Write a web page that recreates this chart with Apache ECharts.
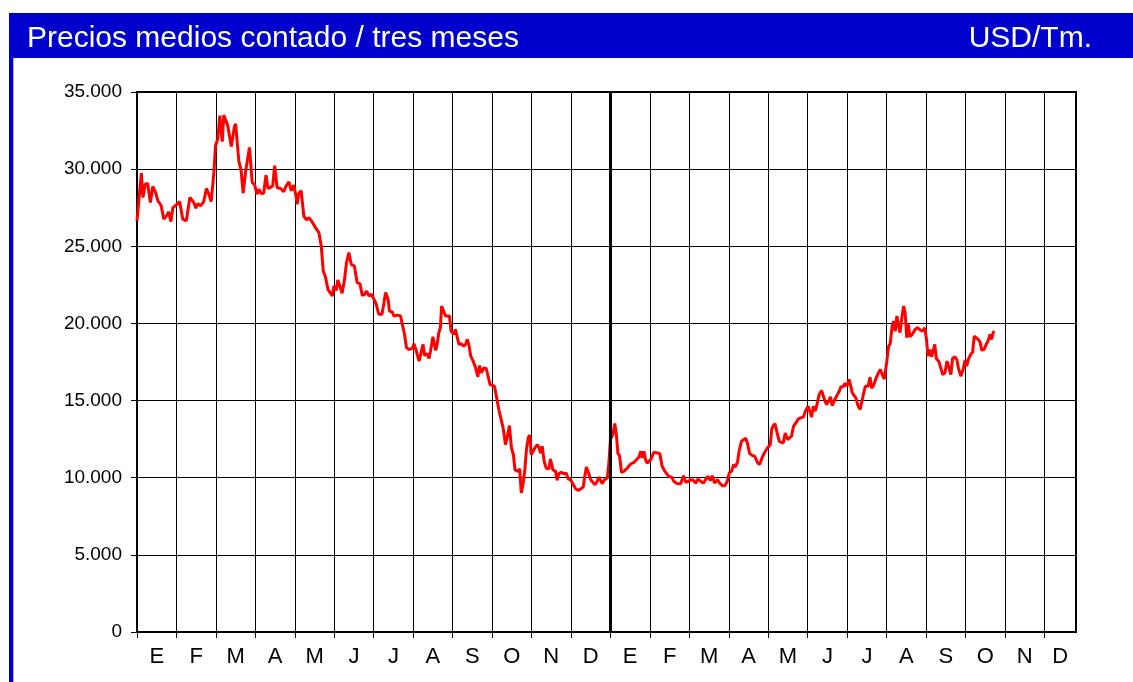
<!DOCTYPE html>
<html>
<head>
<meta charset="utf-8">
<script src="https://cdn.jsdelivr.net/npm/echarts@6/dist/echarts.min.js"></script>
<style>
html, body { margin: 0; padding: 0; background: #fff; }
#chart { width: 1133px; height: 682px; }
</style>
</head>
<body>
<div id="chart"></div>
<script>
// Precios medios contado / tres meses (USD/Tm.) - dos años, eje en meses
const MESES = ['E', 'F', 'M', 'A', 'M', 'J', 'J', 'A', 'S', 'O', 'N', 'D'];
const EJE_MAX = 23.8;   // el último mes (D) queda recortado
const Y_MAX = 35000;
const Y_PASO = 5000;

// [mes (posición fraccionaria desde enero del primer año), precio]
const tramoAnio1 = [
    [0.00, 26650], [0.11, 29740], [0.15, 28160], [0.21, 29030], [0.27, 29070], [0.34, 27840],
    [0.40, 28880], [0.47, 28490], [0.53, 27950], [0.61, 27660], [0.68, 26760], [0.76, 27020],
    [0.80, 27230], [0.86, 26600], [0.91, 27510], [1.02, 27730], [1.08, 27900], [1.16, 26760],
    [1.25, 26650], [1.34, 28160], [1.44, 27840], [1.49, 27470], [1.54, 27770], [1.61, 27620],
    [1.69, 27880], [1.76, 28750], [1.82, 28380], [1.88, 27900], [1.95, 29790], [1.99, 31520],
    [2.05, 31990], [2.10, 33470], [2.16, 31780], [2.20, 33510], [2.24, 33470], [2.30, 32820],
    [2.39, 31470], [2.47, 32770], [2.50, 32930], [2.58, 30540], [2.64, 29890], [2.69, 28440],
    [2.75, 29790], [2.79, 29680], [2.85, 31410], [2.92, 29140], [2.98, 28990], [3.04, 28380],
    [3.09, 28700], [3.15, 28420], [3.21, 28440], [3.27, 29610], [3.32, 28750], [3.38, 28810],
    [3.44, 28920], [3.49, 30220], [3.55, 28810], [3.64, 28750], [3.72, 28530], [3.78, 28920],
    [3.85, 29180], [3.91, 28600], [3.97, 28960], [4.03, 28270], [4.06, 27730], [4.10, 28440],
    [4.16, 28600], [4.23, 26930], [4.30, 26710], [4.36, 26860], [4.44, 26580], [4.52, 26220],
    [4.61, 25890], [4.67, 25020], [4.72, 23400], [4.78, 22970], [4.84, 22210], [4.89, 22140],
    [4.95, 21780], [4.99, 22430], [5.05, 22140], [5.09, 22810], [5.14, 22750], [5.20, 21950],
    [5.26, 22860], [5.31, 23940], [5.37, 24590], [5.43, 23830], [5.51, 23720], [5.58, 22640],
    [5.65, 22580], [5.71, 21820], [5.77, 21890], [5.82, 22100], [5.88, 21780], [5.94, 21890],
    [5.98, 21820], [6.05, 21350], [6.13, 20590], [6.21, 20590], [6.26, 21350], [6.30, 22000],
    [6.36, 21610], [6.40, 20800], [6.47, 20740], [6.51, 20480], [6.60, 20540], [6.68, 20480],
    [6.72, 20400], [6.78, 19300], [6.83, 18420], [6.89, 18310], [6.98, 18380], [7.02, 18680],
    [7.08, 18210], [7.15, 17560], [7.20, 17660], [7.25, 18640], [7.29, 17920], [7.36, 18030],
    [7.40, 17730], [7.44, 18210], [7.50, 19140], [7.57, 18250], [7.61, 18680], [7.65, 19400],
    [7.69, 19720], [7.72, 21130], [7.76, 21020], [7.82, 20480], [7.86, 20520], [7.92, 20480],
    [7.96, 19500], [8.03, 19290], [8.07, 19610], [8.12, 19610], [8.16, 18640], [8.22, 18680],
    [8.27, 18530], [8.33, 18640], [8.37, 18960], [8.41, 18640], [8.46, 17880], [8.52, 17560],
    [8.58, 17120], [8.64, 16540], [8.68, 17270], [8.73, 16800], [8.79, 17120], [8.85, 17080],
    [8.90, 17120], [8.95, 16040], [9.00, 16150], [9.06, 15930], [9.11, 15280], [9.17, 14420],
    [9.23, 13770], [9.28, 13230], [9.34, 12140], [9.38, 12580], [9.44, 13380], [9.49, 11930],
    [9.54, 11490], [9.58, 10520], [9.64, 10410], [9.70, 10570], [9.74, 9010], [9.79, 9650],
    [9.83, 10520], [9.87, 11820], [9.92, 12620], [9.96, 12750], [9.99, 11490], [10.04, 11710],
    [10.10, 11990], [10.15, 12140], [10.19, 11930], [10.23, 11600], [10.27, 12040], [10.32, 11060],
    [10.37, 10630], [10.44, 10570], [10.48, 11210], [10.54, 10520], [10.61, 10410], [10.65, 9830],
    [10.69, 10260], [10.75, 10350], [10.82, 10260], [10.88, 10300], [10.93, 9910], [10.99, 9870],
    [11.06, 9550], [11.12, 9270], [11.19, 9180], [11.24, 9270], [11.31, 9400], [11.35, 10090],
    [11.39, 10690], [11.44, 10350], [11.50, 9870], [11.55, 9980], [11.61, 9550], [11.65, 9700],
    [11.71, 10040], [11.75, 9830], [11.79, 9610], [11.85, 9870], [11.92, 9980], [11.96, 10950]
];

const tramoAnio2 = [
    [12.00, 12510], [12.06, 12790], [12.11, 13510], [12.15, 12790], [12.19, 11560], [12.23, 11430],
    [12.28, 10350], [12.34, 10410], [12.43, 10630], [12.51, 10890], [12.60, 11000], [12.66, 11170],
    [12.72, 11330], [12.77, 11710], [12.81, 11280], [12.85, 11710], [12.89, 11170], [12.93, 10950],
    [13.02, 11170], [13.10, 11650], [13.19, 11600], [13.25, 11560], [13.31, 10740], [13.38, 10410],
    [13.43, 10480], [13.48, 10090], [13.55, 10040], [13.61, 9760], [13.70, 9610], [13.78, 9610],
    [13.85, 10130], [13.91, 9700], [13.97, 9760], [14.03, 9870], [14.10, 9830], [14.16, 9650],
    [14.22, 9910], [14.29, 9760], [14.36, 9650], [14.41, 9870], [14.47, 10090], [14.53, 9810],
    [14.58, 10130], [14.64, 9650], [14.71, 9870], [14.77, 9650], [14.84, 9480], [14.90, 9480],
    [14.96, 9760], [15.01, 10300], [15.07, 10410], [15.12, 10850], [15.16, 10690], [15.22, 11000],
    [15.26, 11710], [15.32, 12360], [15.37, 12470], [15.43, 12560], [15.47, 12250], [15.53, 11560],
    [15.60, 11430], [15.66, 11390], [15.72, 11000], [15.78, 10850], [15.85, 11340], [15.91, 11650],
    [15.98, 11930], [16.05, 12140], [16.09, 13160], [16.13, 13380], [16.17, 13510], [16.22, 12950],
    [16.28, 12360], [16.33, 12430], [16.38, 12250], [16.43, 12900], [16.49, 12470], [16.53, 12360],
    [16.59, 12690], [16.64, 13330], [16.70, 13550], [16.76, 13810], [16.81, 13850], [16.89, 13940],
    [16.95, 14370], [17.01, 14630], [17.06, 14530], [17.10, 13940], [17.14, 14630], [17.19, 14310],
    [17.23, 14680], [17.29, 15390], [17.35, 15650], [17.39, 15650], [17.43, 15020], [17.48, 14740],
    [17.54, 15020], [17.58, 15240], [17.62, 14680], [17.68, 15020], [17.74, 15330], [17.80, 15610],
    [17.84, 15890], [17.90, 15890], [17.94, 16110], [17.99, 15930], [18.05, 16370], [18.09, 16260],
    [18.13, 15500], [18.18, 15500], [18.22, 15180], [18.28, 14630], [18.33, 14420], [18.36, 14530],
    [18.41, 15390], [18.46, 15930], [18.53, 15930], [18.58, 16520], [18.62, 15800], [18.67, 15980],
    [18.72, 16370], [18.78, 16730], [18.84, 17010], [18.88, 16750], [18.94, 16390], [19.00, 17450],
    [19.05, 18530], [19.09, 18680], [19.14, 19830], [19.18, 20150], [19.22, 19500], [19.26, 20480],
    [19.29, 20050], [19.34, 19400], [19.38, 20260], [19.43, 21130], [19.47, 20690], [19.51, 19070],
    [19.55, 19940], [19.59, 19140], [19.65, 19290], [19.72, 19610], [19.78, 19720], [19.85, 19580],
    [19.91, 19500], [19.97, 19720], [20.01, 18960], [20.05, 17880], [20.10, 18310], [20.14, 17840],
    [20.19, 18310], [20.22, 18640], [20.26, 17710], [20.32, 17560], [20.36, 17230], [20.42, 16690],
    [20.48, 16800], [20.53, 17560], [20.57, 17660], [20.63, 16690], [20.67, 17710], [20.73, 17840],
    [20.78, 17660], [20.82, 17120], [20.88, 16580], [20.94, 17010], [20.99, 17620], [21.03, 17230],
    [21.07, 17660], [21.13, 17990], [21.18, 18140], [21.22, 19180], [21.26, 19140], [21.32, 18960],
    [21.37, 18790], [21.41, 18270], [21.47, 18310], [21.53, 18680], [21.57, 18850], [21.62, 19290],
    [21.66, 18960], [21.70, 19400], [21.73, 19500]
];

const FUENTE = '"Liberation Sans", Arial, Helvetica, sans-serif';
const AZUL = '#0000CC';

function initPreciosChart() {
    const chart = echarts.init(document.getElementById('chart'));

    // ticks en cada cambio de mes, etiquetas centradas en cada mes
    const limitesMes = [];
    for (let i = 0; i < Math.ceil(EJE_MAX); i++) limitesMes.push(i);
    const centrosMes = limitesMes.map(i => (i + Math.min(i + 1, EJE_MAX)) / 2);

    const miles = v => String(v).replace(/\B(?=(\d{3})+(?!\d))/g, '.');

    const option = {
        animation: false,
        backgroundColor: '#fff',
        graphic: [
            { type: 'rect', shape: { x: 9, y: 13, width: 1124, height: 45 }, style: { fill: AZUL } },
            { type: 'rect', shape: { x: 9, y: 13, width: 4.3, height: 669 }, style: { fill: AZUL } },
            {
                type: 'text', x: 27, y: 39,
                style: { text: 'Precios medios contado / tres meses', fill: '#fff',
                         font: '30px ' + FUENTE, align: 'left', verticalAlign: 'middle' }
            },
            {
                type: 'text', x: 1092, y: 39,
                style: { text: 'USD/Tm.', fill: '#fff',
                         font: '30px ' + FUENTE, align: 'right', verticalAlign: 'middle' }
            }
        ],
        grid: {
            left: 137, top: 92, right: 57, bottom: 50,
            show: true, borderColor: '#000', borderWidth: 2, backgroundColor: 'transparent'
        },
        xAxis: {
            type: 'value',
            min: 0,
            max: EJE_MAX,
            axisLine: { show: true, onZero: false, lineStyle: { color: '#000', width: 2 } },
            axisTick: { show: true, length: 6, customValues: limitesMes, lineStyle: { color: '#000', width: 1 } },
            splitLine: { show: true, lineStyle: { color: '#000', width: 1 } },
            axisLabel: {
                customValues: centrosMes,
                margin: 14,
                fontSize: 22,
                fontFamily: FUENTE,
                color: '#000',
                formatter: (v) => MESES[Math.floor(v) % 12]
            }
        },
        yAxis: {
            type: 'value',
            min: 0,
            max: Y_MAX,
            interval: Y_PASO,
            axisLine: { show: true, lineStyle: { color: '#000', width: 2 } },
            axisTick: { show: true, length: 6, lineStyle: { color: '#000', width: 1 } },
            splitLine: { show: true, lineStyle: { color: '#000', width: 1 } },
            axisLabel: { margin: 15, fontSize: 19, fontFamily: FUENTE, color: '#000', formatter: miles }
        },
        series: [
            {
                name: 'Precio',
                type: 'line',
                data: tramoAnio1.concat(tramoAnio2),
                showSymbol: false,
                lineStyle: { color: '#FF0000', width: 3 },
                itemStyle: { color: '#FF0000' },
                markLine: {
                    silent: true,
                    symbol: 'none',
                    label: { show: false },
                    lineStyle: { color: '#000', width: 3, type: 'solid' },
                    data: [{ xAxis: 12 }]
                },
                z: 3
            }
        ]
    };
    chart.setOption(option);
    window.addEventListener('resize', () => chart.resize());
}
window.addEventListener('load', initPreciosChart);
</script>
</body>
</html>
